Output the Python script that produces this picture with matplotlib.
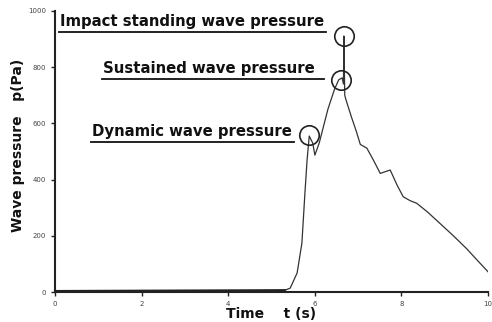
import matplotlib
matplotlib.use("Agg")
import matplotlib.pyplot as plt

# data
t = [0.0, 1.0, 2.0, 3.0, 4.0, 5.0, 5.3, 5.43, 5.59, 5.70, 5.77, 5.82, 5.87, 5.95, 6.0,
     6.1, 6.3, 6.45, 6.55, 6.63, 6.66, 6.67, 6.69, 6.72, 6.85, 6.95, 7.05, 7.2, 7.35,
     7.51, 7.62, 7.74, 7.9, 8.04, 8.2, 8.35, 8.6, 8.89, 9.2, 9.5, 9.8, 10.0]
p = [3, 4, 3, 5, 4, 5, 6, 14, 68, 174, 352, 470, 555, 530, 487,
     530, 650, 720, 755, 762, 740, 911, 700, 683, 620, 575, 525, 512, 470,
     422, 428, 434, 380, 339, 325, 316, 285, 244, 200, 155, 105, 72]
xticks = [0, 2, 4, 6, 8, 10]
yticks = [0, 200, 400, 600, 800, 1000]
labels = ["Impact standing wave pressure", "Sustained wave pressure", "Dynamic wave pressure"]
peak_t = [6.67, 6.6, 5.86]
peak_p = [910, 755, 560]

fig = plt.figure(figsize=(4.92, 3.22), dpi=100)
ax = fig.add_axes([0.112, 0.093, 0.880, 0.873])
ax.plot(t, p, color="#333333", lw=0.9)
ax.plot([0, 5.3], [3, 6], color="#222222", lw=1.8)
ax.set_xlim(0, 10)
ax.set_ylim(0, 1000)
ax.set_xticks(xticks)
ax.set_yticks(yticks)
ax.tick_params(labelsize=5, length=3, width=1, colors="#222222", labelcolor="#444444")
for s in ["top", "right"]:
    ax.spines[s].set_visible(False)
for s in ["left", "bottom"]:
    ax.spines[s].set_linewidth(1.5)
    ax.spines[s].set_color("#222222")

# circles on peaks
for tc, pc in zip(peak_t, peak_p):
    ax.plot(tc, pc, marker="o", ms=14, mfc="none", mec="#222222", mew=1.2)

# annotation texts with underlines
txt_pos = [(0.12, 925, 6.26), (1.11, 757, 6.2), (0.86, 534, 5.52)]
for lab, (x0, y0, x1) in zip(labels, txt_pos):
    ax.text(x0, y0 + 10, lab, fontsize=10.7, fontweight="bold", color="#111111",
            ha="left", va="bottom")
    ax.plot([x0 - 0.03, x1], [y0, y0], color="#111111", lw=1.3, clip_on=False)

fig.text(0.036, 0.55, "Wave pressure   p(Pa)", rotation=90, fontsize=10,
         fontweight="bold", ha="center", va="center", color="#111111")
fig.text(0.55, 0.004, "Time    t (s)", fontsize=10, fontweight="bold",
         ha="center", va="bottom", color="#111111")

fig.savefig("out.png", dpi=100)
